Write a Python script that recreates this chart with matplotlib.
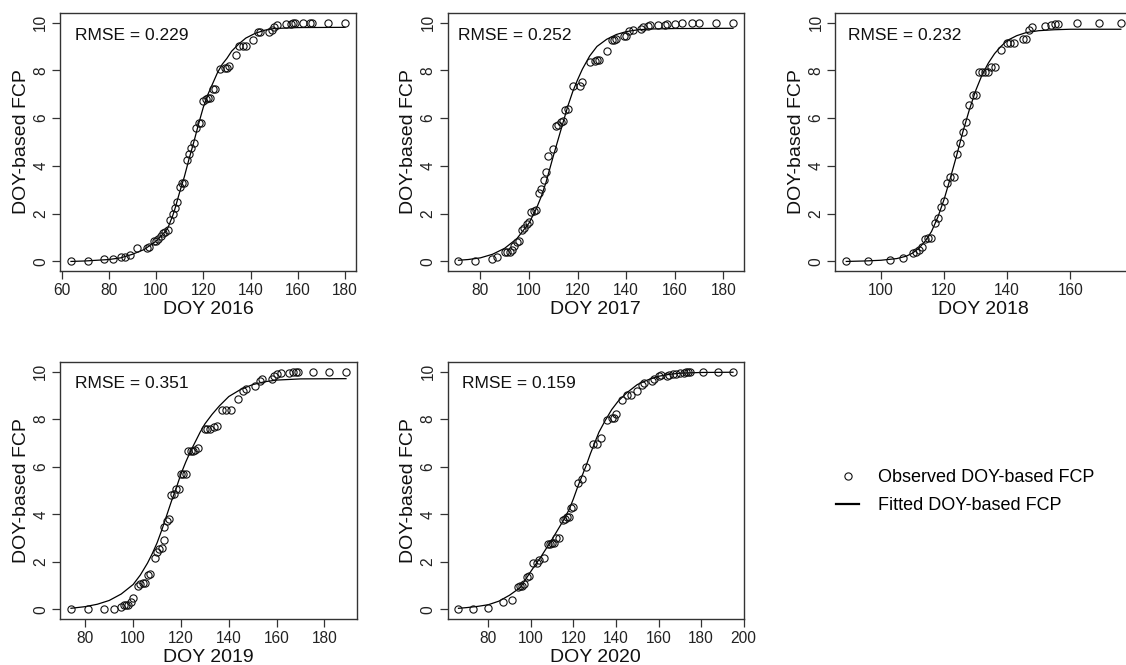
import matplotlib
matplotlib.use("Agg")
import matplotlib.pyplot as plt
from matplotlib.lines import Line2D

plt.rcParams['font.family'] = ['Liberation Sans', 'DejaVu Sans']

# ---------------- data ----------------
years = ["2016", "2017", "2018", "2019", "2020"]
rmse = ["0.229", "0.252", "0.232", "0.351", "0.159"]

doy_2016 = [64, 71, 78, 82, 85, 87, 89, 92, 96, 97, 99, 100, 101, 102, 103, 104, 105, 106, 107, 108,
            109, 110, 111, 112, 113, 114, 115, 116, 117, 118, 119, 120, 121, 122, 123, 124, 125, 127, 129, 130,
            131, 134, 135, 137, 138, 141, 143, 144, 148, 149, 150, 151, 155, 157, 158, 159, 162, 165, 166, 173, 180]
fcp_2016 = [0, 0, 0.1, 0.1, 0.2, 0.2, 0.25, 0.55, 0.55, 0.6, 0.85, 0.85, 0.95, 1.05, 1.2, 1.25, 1.3, 1.75, 2.0, 2.25,
            2.5, 3.1, 3.3, 3.3, 4.25, 4.5, 4.75, 4.95, 5.6, 5.8, 5.8, 6.7, 6.8, 6.85, 6.85, 7.2, 7.2, 8.05, 8.1, 8.1,
            8.2, 8.65, 9.0, 9.0, 9.0, 9.25, 9.6, 9.6, 9.6, 9.7, 9.8, 9.9, 9.95, 9.95, 10, 10, 10, 10, 10, 10, 10]
fit_doy_2016 = [64, 70, 80, 85, 90, 95, 100, 103, 105, 107, 108, 110, 112, 114, 116, 118, 120, 122, 124, 126,
                128, 130, 132, 135, 138, 142, 146, 150, 160, 180]
fit_fcp_2016 = [0.0, 0.02, 0.08, 0.15, 0.3, 0.5, 0.85, 1.15, 1.4, 1.9, 2.2, 2.9, 3.55, 4.3, 5.0, 5.75, 6.45, 7.0, 7.45, 7.9,
                8.25, 8.5, 8.8, 9.1, 9.35, 9.55, 9.68, 9.75, 9.79, 9.8]

doy_2017 = [71, 78, 85, 87, 90, 91, 92, 93, 94, 95, 96, 97, 98, 99, 100, 101, 102, 103, 104, 105,
            106, 107, 108, 110, 111, 112, 113, 114, 115, 116, 118, 121, 122, 125, 127, 128, 129, 132, 134, 135,
            136, 139, 140, 141, 143, 146, 147, 149, 150, 153, 156, 157, 160, 163, 167, 170, 177, 184]
fcp_2017 = [0, 0, 0.1, 0.2, 0.4, 0.4, 0.4, 0.5, 0.65, 0.8, 0.85, 1.3, 1.4, 1.55, 1.65, 2.05, 2.1, 2.15, 2.85, 3.05,
            3.4, 3.75, 4.4, 4.7, 5.65, 5.7, 5.85, 5.9, 6.35, 6.4, 7.35, 7.35, 7.5, 8.35, 8.4, 8.45, 8.45, 8.8, 9.25, 9.25,
            9.3, 9.45, 9.45, 9.65, 9.7, 9.75, 9.8, 9.85, 9.9, 9.9, 9.9, 9.95, 9.95, 10, 10, 10, 10, 10]
fit_doy_2017 = [71, 75, 80, 85, 90, 95, 100, 103, 105, 107, 110, 112, 114, 116, 118, 120, 122, 125, 128, 132,
                136, 140, 145, 150, 160, 184]
fit_fcp_2017 = [0.05, 0.08, 0.15, 0.3, 0.55, 0.95, 1.6, 2.2, 2.7, 3.3, 4.4, 5.1, 5.8, 6.5, 7.1, 7.6, 8.05, 8.6, 9.0, 9.3,
                9.5, 9.62, 9.7, 9.73, 9.75, 9.76]

doy_2018 = [89, 96, 103, 107, 110, 111, 112, 113, 114, 115, 116, 117, 118, 119, 120, 121, 122, 123, 124, 125,
            126, 127, 128, 129, 130, 131, 132, 133, 134, 135, 136, 138, 140, 141, 142, 145, 146, 147, 148, 152,
            154, 155, 156, 162, 169, 176]
fcp_2018 = [0, 0, 0.05, 0.15, 0.35, 0.4, 0.5, 0.6, 0.95, 1.0, 1.0, 1.6, 1.8, 2.3, 2.55, 3.3, 3.55, 3.55, 4.5, 4.95,
            5.4, 5.85, 6.55, 6.95, 6.95, 7.95, 7.95, 7.95, 7.95, 8.15, 8.15, 8.85, 9.15, 9.15, 9.15, 9.3, 9.3, 9.7, 9.8, 9.85,
            9.9, 9.95, 9.95, 10, 10, 10]
fit_doy_2018 = [89, 95, 100, 105, 108, 110, 112, 114, 116, 118, 120, 122, 124, 126, 128, 130, 132, 134, 136, 138,
                140, 143, 146, 150, 155, 160, 176]
fit_fcp_2018 = [0.0, 0.02, 0.05, 0.12, 0.22, 0.35, 0.55, 0.85, 1.25, 1.85, 2.6, 3.5, 4.45, 5.45, 6.35, 7.15, 7.8, 8.3, 8.7, 9.0,
                9.25, 9.45, 9.58, 9.66, 9.7, 9.72, 9.72]

doy_2019 = [74, 81, 88, 92, 95, 96, 97, 98, 99, 100, 102, 103, 104, 105, 106, 107, 109, 110, 111, 112,
            113, 113, 114, 115, 116, 117, 118, 119, 120, 121, 122, 123, 124, 125, 126, 127, 130, 131, 132, 134,
            135, 137, 139, 141, 144, 146, 147, 151, 153, 154, 158, 159, 160, 162, 165, 167, 168, 169, 175, 182, 189]
fcp_2019 = [0, 0, 0, 0, 0.1, 0.2, 0.2, 0.2, 0.3, 0.5, 1.0, 1.05, 1.1, 1.1, 1.45, 1.5, 2.15, 2.4, 2.55, 2.6,
            2.9, 3.45, 3.7, 3.8, 4.8, 4.85, 5.05, 5.05, 5.7, 5.7, 5.7, 6.65, 6.65, 6.65, 6.7, 6.8, 7.6, 7.6, 7.6, 7.65,
            7.7, 8.4, 8.4, 8.4, 8.85, 9.2, 9.25, 9.4, 9.6, 9.7, 9.7, 9.8, 9.9, 9.95, 9.95, 10, 10, 10, 10, 10, 10]
fit_doy_2019 = [74, 80, 85, 90, 95, 100, 103, 106, 108, 110, 112, 114, 116, 118, 120, 122, 124, 126, 128, 130,
                133, 136, 140, 145, 150, 155, 160, 170, 189]
fit_fcp_2019 = [0.05, 0.12, 0.22, 0.38, 0.65, 1.05, 1.45, 1.95, 2.35, 2.8, 3.35, 3.95, 4.55, 5.1, 5.7, 6.2, 6.65, 7.05, 7.45, 7.8,
                8.2, 8.55, 8.95, 9.25, 9.45, 9.57, 9.64, 9.69, 9.7]

doy_2020 = [66, 73, 80, 87, 91, 94, 95, 96, 97, 98, 99, 101, 103, 104, 106, 108, 109, 110, 111, 112,
            113, 115, 116, 117, 118, 119, 120, 122, 124, 126, 129, 131, 133, 136, 138, 139, 140, 143, 145, 147,
            150, 152, 153, 157, 158, 160, 161, 164, 165, 167, 168, 170, 172, 173, 174, 175, 181, 188, 195]
fcp_2020 = [0, 0, 0.05, 0.3, 0.4, 0.95, 1.0, 1.0, 1.05, 1.35, 1.4, 1.95, 1.95, 2.1, 2.15, 2.75, 2.75, 2.8, 2.8, 3.0,
            3.0, 3.75, 3.8, 3.9, 3.9, 4.25, 4.3, 5.3, 5.5, 6.0, 6.95, 6.95, 7.2, 7.95, 8.05, 8.05, 8.2, 8.8, 9.0, 9.0,
            9.2, 9.45, 9.5, 9.6, 9.7, 9.8, 9.85, 9.8, 9.85, 9.9, 9.9, 9.95, 9.95, 10, 10, 10, 10, 10, 10]
fit_doy_2020 = [66, 70, 75, 80, 85, 90, 95, 100, 105, 110, 115, 118, 120, 122, 124, 126, 128, 130, 132, 135,
                138, 141, 145, 150, 155, 160, 165, 170, 180, 195]
fit_fcp_2020 = [0.05, 0.08, 0.13, 0.2, 0.35, 0.6, 0.92, 1.6, 2.25, 2.95, 3.7, 4.2, 4.65, 5.15, 5.6, 6.05, 6.55, 7.0, 7.45, 7.95,
                8.4, 8.75, 9.1, 9.45, 9.65, 9.8, 9.88, 9.93, 9.96, 9.97]

obs_doy = [doy_2016, doy_2017, doy_2018, doy_2019, doy_2020]
obs_fcp = [fcp_2016, fcp_2017, fcp_2018, fcp_2019, fcp_2020]
fit_doy = [fit_doy_2016, fit_doy_2017, fit_doy_2018, fit_doy_2019, fit_doy_2020]
fit_fcp = [fit_fcp_2016, fit_fcp_2017, fit_fcp_2018, fit_fcp_2019, fit_fcp_2020]
x_ticks = [[60, 80, 100, 120, 140, 160, 180],
           [80, 100, 120, 140, 160, 180],
           [100, 120, 140, 160],
           [80, 100, 120, 140, 160, 180],
           [80, 100, 120, 140, 160, 180, 200]]
y_ticks = [0, 2, 4, 6, 8, 10]

# ---------------- layout ----------------
W, H = 1126, 665
fig = plt.figure(figsize=(W / 100, H / 100), dpi=100)
fig.patch.set_facecolor('white')

# (left, right, top, bottom) in pixels
boxes = [(60, 356, 13, 271),
         (447.5, 744, 13, 271),
         (835.3, 1131.8, 13, 271),
         (60, 357, 362, 619),
         (447.5, 744, 362, 619)]
rmse_dx = [15, 10.5, 13, 15, 14.8]

edge = '#333333'
for i, (l, r, t, b) in enumerate(boxes):
    ax = fig.add_axes([l / W, 1 - b / H, (r - l) / W, (b - t) / H])
    ax.plot(fit_doy[i], fit_fcp[i], color='black', lw=0.9, zorder=2)
    ax.plot(obs_doy[i], obs_fcp[i], linestyle='none', marker='o', markersize=5.2,
            markerfacecolor='none', markeredgecolor='#111111', markeredgewidth=0.8, zorder=3)
    xmin, xmax = min(obs_doy[i]), max(obs_doy[i])
    pad = 0.04 * (xmax - xmin)
    ax.set_xlim(xmin - pad, xmax + pad)
    ax.set_ylim(-0.4, 10.4)
    ax.set_xticks(x_ticks[i])
    ax.set_yticks(y_ticks)
    ax.tick_params(axis='both', direction='out', length=6, width=0.9, colors=edge,
                   labelcolor='#222222', labelsize=11.2, pad=2.5)
    ax.tick_params(axis='y', labelrotation=90)
    for lab in ax.get_yticklabels():
        lab.set_va('center')
    for sp in ax.spines.values():
        sp.set_color(edge)
        sp.set_linewidth(1.0)
    ax.set_xlabel('DOY ' + years[i], fontsize=14, color='#111111', labelpad=2)
    ax.set_ylabel('DOY-based FCP', fontsize=14, color='#111111', labelpad=2.5)
    ax.text(rmse_dx[i] / (r - l), 1 - 22 / (b - t), 'RMSE = ' + rmse[i],
            transform=ax.transAxes, fontsize=12.5, color='#111111', ha='left', va='center')

handles = [Line2D([], [], linestyle='none', marker='o', markersize=5.2, markerfacecolor='none',
                  markeredgecolor='#111111', markeredgewidth=0.8),
           Line2D([], [], color='black', lw=1.6)]
labels = ['Observed DOY-based FCP', 'Fitted DOY-based FCP']
fig.legend(handles, labels, loc='upper left', bbox_to_anchor=(836 / W, 1 - 469 / H),
           frameon=False, fontsize=13, handlelength=1.3, handletextpad=1.05,
           labelspacing=0.6, borderpad=0, borderaxespad=0)

fig.savefig('out.png', dpi=100, facecolor='white')
